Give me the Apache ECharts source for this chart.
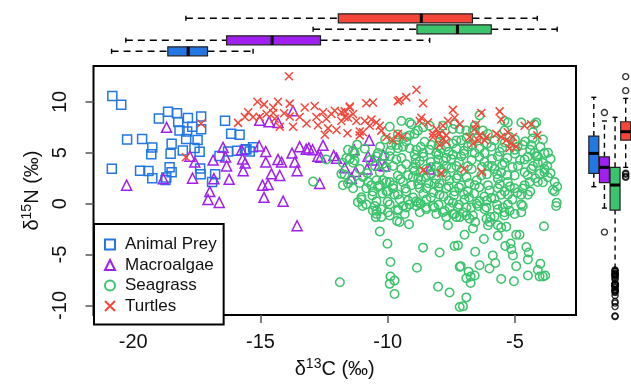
<!DOCTYPE html>
<html>
<head>
<meta charset="utf-8">
<script src="https://cdn.jsdelivr.net/npm/echarts@6.0.0/dist/echarts.min.js"></script>
<style>
html, body { margin: 0; padding: 0; background: #fff; }
#chart { width: 631px; height: 384px; }
</style>
</head>
<body>
<div id="chart"></div>
<script>
// isotope values: [d13C, d15N]
var animalPrey = [
	[-20.82,10.57],[-20.47,9.73],[-18.99,8.37],[-18.63,9.04],[-18.28,8.88],[-17.85,8.41],[-17.33,8.56],[-18.23,8.03],
	[-17.68,7.56],[-18.18,7.18],[-17.88,7.09],[-17.33,7.31],[-16.39,8.16],[-16.15,6.86],[-15.82,6.77],[-20.24,6.30],
	[-19.65,6.36],[-17.92,6.36],[-17.47,6.27],[-18.49,5.89],[-19.25,5.51],[-19.29,4.85],[-18.53,4.91],[-18.05,5.23],
	[-17.59,5.48],[-17.39,5.10],[-16.61,4.69],[-15.92,5.20],[-20.84,3.43],[-19.73,3.24],[-19.40,3.21],[-19.25,2.49],
	[-18.57,3.59],[-18.49,3.08],[-18.70,2.58],[-18.73,2.33],[-17.37,3.46],[-17.35,2.89],[-16.78,2.89],[-16.90,2.12],
	[-16.27,5.13],[-15.61,5.29],[-15.29,5.54],[-15.42,5.13],[-15.55,5.35]
];
var macroalgae = [
	[-20.26,1.82],[-18.69,7.50],[-18.82,2.46],[-17.77,4.66],[-17.58,4.09],[-17.67,2.51],[-16.86,4.28],[-16.99,1.19],
	[-17.06,0.41],[-16.62,0.12],[-16.83,2.46],[-16.47,5.54],[-16.37,4.59],[-16.33,3.71],[-16.23,2.39],[-15.74,5.29],
	[-15.70,4.40],[-15.68,3.24],[-15.03,8.19],[-15.05,5.67],[-14.79,5.13],[-14.79,4.09],[-14.86,0.62],[-14.92,1.82],
	[-14.70,1.89],[-14.57,2.93],[-14.66,8.06],[-14.31,4.35],[-14.17,4.09],[-14.24,2.77],[-14.11,0.25],[-14.31,7.97],
	[-13.72,9.13],[-13.76,4.97],[-13.65,4.09],[-13.56,3.24],[-13.56,-2.17],[-13.46,5.60],[-13.10,5.46],[-12.95,5.30],
	[-12.74,4.66],[-12.67,1.98],[-15.60,4.00],[-13.20,5.35],[-12.54,5.73],[-12.63,4.57],[-12.12,4.73],[-12.01,4.47],
	[-11.69,3.53],[-11.32,5.29],[-11.43,2.51],[-10.73,6.24],[-11.26,3.15],[-10.77,4.66],[-10.81,3.40],[-10.58,4.28],
	[-10.34,3.78],[-10.18,4.82],[-10.12,3.71],[-8.35,3.40]
];
var seagrass = [
	[-10.99,-0.23],[-10.31,-2.74],[-10.01,-3.94],[-9.89,-5.74],[-9.89,-7.16],[-9.73,-7.56],[-9.92,-7.88],[-9.73,-8.88],
	[-11.88,-7.72],[-8.61,-4.32],[-8.85,-6.30],[-7.96,-4.79],[-8.02,-8.17],[-7.57,-8.73],[-7.37,-4.16],[-7.24,-4.10],
	[-7.17,-6.21],[-9.16,-2.02],[-9.63,-1.70],[-9.53,-1.80],[-9.92,-1.17],[-7.63,-2.12],[-7.17,-10.15],
	[-3.38,-0.23],[-3.86,-2.21],[-6.98,-3.06],[-6.22,-3.47],[-5.67,-3.16],[-4.95,-3.06],[-4.82,-3.06],[-5.38,-4.16],
	[-5.17,-3.91],[-5.14,-4.48],[-5.08,-5.10],[-4.55,-4.25],[-4.46,-4.79],[-4.49,-5.48],[-6.56,-4.73],[-5.87,-5.10],
	[-5.77,-5.83],[-6.39,-6.05],[-6.00,-6.37],[-4.95,-6.14],[-4.00,-5.90],[-7.13,-6.14],[-6.82,-6.68],[-6.74,-7.16],
	[-6.91,-7.32],[-6.58,-7.06],[-6.74,-7.79],[-5.54,-7.41],[-5.04,-7.63],[-4.49,-7.06],[-4.10,-6.52],[-4.03,-7.16],
	[-3.90,-7.16],[-3.81,-7.06],[-6.91,-9.21],[-7.04,-10.09],[-6.65,-2.43],[-6.56,-1.80],[-6.06,-2.12],[-6.00,-1.80],
	[-5.67,-2.12],[-5.54,-2.33],[-6.12,-1.48],[-5.96,-1.32],[-5.80,-1.27],[-5.41,-1.17],[-5.21,-0.70],[-5.01,-1.01],
	[-4.75,-0.85],[-7.37,-1.01],[-7.17,-1.32],[-7.04,-0.85],[-6.78,-1.48],[-6.65,-1.17],[-7.24,-0.38],[-6.91,-0.38],
	[-6.45,-0.23],[-6.12,-0.38],[-5.67,-0.54],[-5.47,-0.38],[-4.69,-0.23],
	[-10.44,-1.01],[-10.25,-0.54],[-10.47,-1.32],[-10.25,-1.32],[-9.60,-0.54],[-9.27,-0.38],[-8.87,-0.23],[-8.48,-0.54],
	[-8.16,-0.38],[-8.09,-1.01],[-7.83,-0.85],[-7.70,-1.32],[-7.44,-1.01],[-7.30,-1.32],[-7.57,-0.38],
	[-6.91,-1.17],[-5.34,-2.27],
	[-9.92,7.56],[-9.46,8.13],[-9.07,7.81],[-8.81,7.18],[-9.14,6.71],[-9.66,6.24],[-9.85,5.77],[-9.60,5.44],
	[-9.40,5.60],[-9.27,6.08],[-8.55,6.08],[-8.29,5.77],[-7.96,6.08],[-7.70,5.60],[-7.44,5.92],[-7.83,7.66],
	[-7.44,7.33],[-7.89,6.71],
	[-11.30,4.97],[-11.62,4.50],[-11.76,4.03],[-11.36,4.03],[-11.82,2.93],[-11.56,1.98],[-11.36,1.51],[-11.76,1.82],
	[-11.10,3.40],[-10.97,2.61],[-10.77,2.14],[-10.84,1.51],[-10.64,1.82],[-10.44,2.30],[-10.31,1.82],[-10.05,2.14],
	[-10.58,1.19],[-11.03,0.41],[-10.84,-0.07],[-10.44,0.25],[-10.58,-0.70],[-9.99,1.19],[-9.79,1.82],[-9.60,2.77],
	[-9.46,3.40],[-9.40,2.14],[-9.73,0.88],[-9.53,0.41],[-9.27,1.19],[-9.07,1.82],[-9.01,2.61],[-8.68,2.30],
	[-8.48,1.51],[-8.16,1.98],[-7.96,0.88],[-8.87,0.25],[-8.48,0.41],[-8.22,-0.23],[-9.92,-0.07],[-9.66,4.35],
	[-9.92,4.66],[-9.46,4.50],[-8.94,4.82],[-8.74,4.19],[-8.02,4.35],[-7.70,4.50],[-7.44,4.82],[-7.30,3.71],
	[-7.83,3.08],[-7.57,2.30],[-7.37,1.19],[-7.44,0.09],[-7.76,-0.70],[-8.74,-0.85],[-9.33,-1.01],
	[-8.61,4.97],[-8.35,5.29],[-8.09,4.97],[-8.87,5.29],[-9.14,5.44],[-10.31,3.08],[-10.05,3.55],[-9.79,3.71],
	[-9.27,3.88],[-8.48,3.40],[-8.09,3.71],[-7.70,3.71],[-8.94,3.24],[-8.29,2.93],[-8.74,1.51],[-7.96,1.98],
	[-7.70,1.51],
	[-6.39,8.68],[-7.37,7.81],[-7.17,7.33],[-6.91,7.18],[-6.65,7.18],[-6.58,7.66],[-6.26,7.18],[-6.06,6.86],
	[-5.41,7.18],[-5.21,6.55],[-5.41,8.13],[-4.75,7.97],[-4.23,7.81],[-4.29,7.02],[-4.36,5.77],[-4.69,5.77],
	[-5.01,5.29],[-4.62,4.35],[-4.10,4.66],[-3.84,4.97],[-3.84,3.08],[-4.10,4.03],[-4.36,3.40],[-4.10,2.14],
	[-4.62,1.82],[-5.01,1.51],[-5.28,0.88],[-5.28,2.14],[-5.67,2.46],[-5.80,3.40],[-6.06,3.71],[-6.32,2.77],
	[-6.58,1.82],[-6.85,1.19],[-6.98,0.41],[-6.39,0.25],[-5.93,0.57],[-5.54,0.88],[-5.28,-0.07],[-4.75,0.88],
	[-4.49,0.88],[-3.44,2.14],[-3.34,1.66],[-3.44,1.19],[-3.36,0.10],[-6.71,-0.38],[-6.19,-0.54],[-5.41,-0.85],
	[-4.75,-0.07],
	[-7.11,6.24],[-6.85,5.60],[-6.58,4.97],[-7.11,4.66],[-6.85,3.71],[-7.24,2.77],[-6.19,4.97],[-5.93,5.60],
	[-5.67,4.66],[-5.41,4.03],[-4.88,3.71],[-5.01,2.77],[-4.62,3.08],[-5.54,3.08],[-7.11,1.82],[-6.06,1.82],
	[-5.67,1.51],[-4.23,4.97],[-3.73,3.71],
	[-12.41,4.35],[-12.93,2.17],[-11.56,5.29],[-10.44,4.66],[-10.38,4.97],[-10.12,4.66],[-10.18,2.30],[-9.92,2.14],
	[-10.38,1.66],[-10.05,1.19],[-9.79,1.51],[-10.51,-0.23],[-10.44,-0.70],[-9.99,-0.85],[-9.60,-0.70],[-9.40,-0.23],
	[-9.14,-0.07],[-8.81,0.09],[-8.48,-0.38],[-3.51,1.35],[-3.84,3.40],[-4.03,2.93],[-4.42,2.14],[-4.29,3.71],
	[-4.16,4.66],[-4.16,7.97],[-5.28,7.97],[-8.35,7.66],[-8.61,7.50],[-9.14,7.97],[-8.94,6.86],[-9.27,6.55],
	[-9.66,5.77],[-11.36,5.20],[-11.49,4.40],[-11.30,4.25],[-11.69,2.84],[-11.43,2.36],[-11.10,2.04],[-11.03,0.62],
	[-11.17,0.15],
	[-8.9,3.9],[-8.7,3.1],[-8.5,2.6],[-8.3,3.6],[-8.1,2.4],[-7.9,3.3],[-7.7,2.7],[-7.5,3.5],[-7.3,2.5],[-7.1,3.2],
	[-6.9,2.6],[-6.7,3.4],[-6.5,2.3],[-6.3,3.6],[-6.1,2.9],[-5.9,3.7],[-5.7,2.9],[-5.5,3.8],[-5.3,2.8],[-5.1,3.6],
	[-8.8,1.9],[-8.6,1.0],[-8.4,2.0],[-8.2,1.1],[-8.0,1.6],[-7.8,0.7],[-7.6,1.7],[-7.4,0.8],[-7.2,1.6],[-7.0,0.9],
	[-6.8,2.0],[-6.6,1.0],[-6.4,1.6],[-6.2,0.7],[-6.0,1.3],[-5.8,0.5],[-5.6,1.9],[-5.4,1.2],[-5.2,1.7],[-4.9,1.1],
	[-8.9,4.4],[-8.6,4.6],[-8.3,4.1],[-8.0,4.8],[-7.8,4.2],[-7.5,4.4],[-7.2,4.1],[-7.0,4.9],[-6.7,4.3],[-6.4,4.6],
	[-6.2,4.1],[-5.9,4.4],[-5.6,5.1],[-5.3,4.5],[-5.0,4.9],[-4.8,4.3],[-4.5,4.6],[-4.4,5.3],[-4.9,5.6],[-5.5,5.5],
	[-7.9,5.4],[-7.6,5.1],[-7.3,5.4],[-7.0,5.2],[-6.7,5.8],[-6.4,5.4],[-6.1,5.9],[-5.8,6.2],[-5.4,6.0],[-5.0,6.3],
	[-4.6,6.1],[-4.3,6.4],[-4.0,5.6],[-3.7,5.0],[-3.9,6.3],[-6.5,6.4],[-6.9,6.5],[-7.3,6.2],[-8.0,5.7],[-8.7,5.6],
	[-9.0,0.6],[-8.7,0.0],[-8.3,0.6],[-8.0,-0.1],[-7.6,0.3],[-7.2,-0.1],[-6.8,0.6],[-6.5,0.0],[-6.1,0.3],[-5.7,-0.1],
	[-5.1,0.4],[-4.7,1.5],[-4.4,1.2],[-4.2,2.5],[-4.5,2.8],[-3.9,2.1],[-3.7,2.6],[-3.6,3.0],[-3.9,4.0],[-3.6,4.4],
	[-9.2,2.8],[-9.0,3.5],[-8.8,2.5],[-9.5,2.4],[-9.3,1.5],[-9.6,0.9],[-9.2,0.3],[-10.0,0.2],[-10.2,1.0],[-10.6,0.8],
	[-10.8,3.0],[-10.5,3.7],[-10.2,3.9],[-10.7,4.3],[-9.9,5.2],[-10.3,5.6],[-10.9,5.4],[-11.2,5.8],[-9.6,6.8],[-10.1,6.3]
];
var turtles = [
	[-13.88,12.53],[-15.12,10.02],[-14.86,9.76],[-14.31,10.02],[-14.50,9.45],[-13.85,9.83],[-15.48,8.98],[-15.29,8.51],
	[-15.61,8.51],[-15.88,7.94],[-15.03,8.51],[-14.76,8.82],[-14.44,8.35],[-14.07,8.88],[-14.24,7.56],[-13.85,8.56],
	[-13.72,7.56],[-13.46,8.51],[-13.26,9.45],[-13.19,7.87],[-12.87,9.60],[-12.80,8.51],[-12.74,7.71],[-12.54,8.98],
	[-12.41,8.35],[-12.21,8.82],[-12.08,9.13],[-12.34,7.40],[-12.01,7.24],[-11.82,8.98],[-11.69,8.51],[-11.49,9.45],
	[-11.36,8.82],[-11.58,6.93],[-11.10,7.09],[-12.47,6.77],[-17.33,7.87],[-17.93,4.57],[-14.50,8.91],
	[-11.49,9.55],[-11.69,9.07],[-11.56,8.44],[-11.82,8.13],[-11.23,8.13],[-10.84,9.86],[-10.58,9.95],[-10.90,8.13],
	[-10.64,8.28],[-10.44,7.97],[-10.71,7.66],[-10.25,7.18],[-10.97,7.02],[-11.10,6.71],[-10.05,6.55],[-10.31,7.66],
	[-9.60,10.08],[-8.87,11.20],[-8.61,9.86],[-8.68,8.44],[-8.42,7.97],[-8.09,7.33],[-7.96,6.86],[-8.22,6.86],
	[-7.83,6.39],[-7.70,6.08],[-7.96,5.77],[-8.74,8.13],[-9.60,6.86],[-9.40,6.55],[-9.79,6.24],
	[-9.27,10.47],[-9.53,10.19],[-7.44,9.22],[-7.37,8.44],[-7.63,8.13],[-7.17,7.81],[-7.83,7.66],[-8.22,6.55],
	[-7.70,6.71],[-6.52,7.81],[-6.58,7.33],[-6.39,6.71],[-6.78,6.55],[-6.45,6.24],[-6.65,5.92],[-6.32,8.91],
	[-5.60,9.07],[-5.54,8.28],[-5.73,6.86],[-5.28,7.02],[-5.08,6.55],[-5.34,6.24],[-5.14,5.92],[-4.95,5.60],
	[-5.21,5.44],[-4.62,7.66],[-4.36,7.81],[-4.12,6.71],[-5.54,6.55],[-6.12,6.55],[-6.19,6.24],
	[-8.6,3.3],[-7.9,3.0],[-7.0,3.4],[-6.3,3.1]
];

var groups = ['Animal Prey', 'Macroalgae', 'Seagrass', 'Turtles'];
// marginal boxplots: [low whisker, Q1, median, Q3, high whisker]
var boxC13 = [
	[-20.85, -18.64, -17.84, -17.08, -15.29],
	[-20.29, -16.33, -14.54, -12.64, -8.35],
	[-12.93, -8.85, -7.26, -5.93, -3.34],
	[-17.93, -11.94, -8.68, -6.67, -4.12]
];
var boxN15 = [
	[2.12, 3.38, 5.27, 6.91, 10.57],
	[0.10, 2.50, 3.95, 4.95, 8.33],
	[-5.60, -0.09, 2.28, 3.95, 8.68],
	[3.95, 6.53, 7.32, 8.26, 10.47]
];
var xTicks = [-20, -15, -10, -5];
var yTicks = [-10, -5, 0, 5, 10];

var colors = ['#2277E3', '#A020F0', '#3CC46C', '#F4473A'];
var font = 'Liberation Sans, Arial, sans-serif';
var xMin = -21.56, xMax = -2.6, yMin = -10.95, yMax = 13.53;

var pointSets = [animalPrey, macroalgae, seagrass, turtles];

// points outside the N15 whiskers, drawn as circles on the right margin
var outliers = [];
pointSets.forEach(function (pts, i) {
	pts.forEach(function (p) {
		if (p[1] < boxN15[i][0] || p[1] > boxN15[i][4]) outliers.push([i, p[1]]);
	});
});

function boxItem(horizontal) {
	return function (params, api) {
		var c = api.value(0);
		var p = [];
		for (var i = 1; i <= 5; i++) {
			p.push(horizontal ? api.coord([api.value(i), c]) : api.coord([c, api.value(i)]));
		}
		var dash = { stroke: '#000', lineWidth: 1.4, lineDash: horizontal ? [7, 5] : [5, 4] };
		var solid = { stroke: '#000', lineWidth: 1.4 };
		var box = { fill: colors[c], stroke: '#222', lineWidth: 1.2 };
		var med = { stroke: '#000', lineWidth: 3 };
		var hw = horizontal ? 4.5 : 5, cw = 2.5;
		var kids;
		if (horizontal) {
			var y = p[0][1];
			kids = [
				{ type: 'line', shape: { x1: p[0][0], y1: y, x2: p[1][0], y2: y }, style: dash },
				{ type: 'line', shape: { x1: p[3][0], y1: y, x2: p[4][0], y2: y }, style: dash },
				{ type: 'line', shape: { x1: p[0][0], y1: y - cw, x2: p[0][0], y2: y + cw }, style: solid },
				{ type: 'line', shape: { x1: p[4][0], y1: y - cw, x2: p[4][0], y2: y + cw }, style: solid },
				{ type: 'rect', shape: { x: p[1][0], y: y - hw, width: p[3][0] - p[1][0], height: hw * 2 }, style: box },
				{ type: 'line', shape: { x1: p[2][0], y1: y - hw, x2: p[2][0], y2: y + hw }, style: med }
			];
		} else {
			var x = p[0][0];
			kids = [
				{ type: 'line', shape: { x1: x, y1: p[0][1], x2: x, y2: p[1][1] }, style: dash },
				{ type: 'line', shape: { x1: x, y1: p[3][1], x2: x, y2: p[4][1] }, style: dash },
				{ type: 'line', shape: { x1: x - cw, y1: p[0][1], x2: x + cw, y2: p[0][1] }, style: solid },
				{ type: 'line', shape: { x1: x - cw, y1: p[4][1], x2: x + cw, y2: p[4][1] }, style: solid },
				{ type: 'rect', shape: { x: x - hw, y: p[3][1], width: hw * 2, height: p[1][1] - p[3][1] }, style: box },
				{ type: 'line', shape: { x1: x - hw, y1: p[2][1], x2: x + hw, y2: p[2][1] }, style: med }
			];
		}
		return { type: 'group', children: kids };
	};
}

var richName = {
	n: { fontSize: 20, lineHeight: 24, fontFamily: font, color: '#111' },
	s: { fontSize: 14, lineHeight: 14, fontFamily: font, color: '#111', verticalAlign: 'top' }
};

var symbols = ['rect', 'triangle', 'circle', 'path://M0,0L10,10M10,0L0,10'];
var sizes = [9, 10, 8.5, 8];

var scatterSeries = pointSets.map(function (pts, i) {
	return {
		name: groups[i],
		type: 'scatter',
		xAxisIndex: 0,
		yAxisIndex: 0,
		symbol: symbols[i],
		symbolSize: sizes[i],
		data: pts,
		itemStyle: { color: 'rgba(0,0,0,0)', borderColor: colors[i], borderWidth: 1.5, opacity: 1 },
		emphasis: { disabled: true },
		animation: false
	};
});

var dom = document.getElementById('chart');
var myChart = echarts.init(dom, null, { renderer: 'canvas' });
var option = {
	backgroundColor: '#fff',
	animation: false,
	grid: [
		{ left: 93.5, right: 55, top: 66, bottom: 59, show: true, borderColor: '#000', borderWidth: 2 },
		{ left: 93.5, right: 55, top: 12.8, height: 44 },
		{ left: 588.5, width: 46.7, top: 66, bottom: 59 }
	],
	xAxis: [
		{
			gridIndex: 0, type: 'value', min: xMin, max: xMax,
			axisLine: { show: false, onZero: false },
			splitLine: { show: false },
			axisTick: { show: true, length: 8, customValues: xTicks, lineStyle: { color: '#555', width: 1.5 } },
			axisLabel: { customValues: xTicks, fontSize: 20, fontFamily: font, color: '#111', margin: 17 },
			name: '{n|δ}{s|13}{n|C (‰)}',
			nameLocation: 'middle',
			nameGap: 37,
			nameTextStyle: { rich: richName }
		},
		{ gridIndex: 1, type: 'value', min: xMin, max: xMax, show: false },
		{ gridIndex: 2, type: 'category', data: groups, show: false }
	],
	yAxis: [
		{
			gridIndex: 0, type: 'value', min: yMin, max: yMax,
			axisLine: { show: false, onZero: false },
			splitLine: { show: false },
			axisTick: { show: true, length: 8, customValues: yTicks, lineStyle: { color: '#555', width: 1.5 } },
			axisLabel: { customValues: yTicks, fontSize: 20, fontFamily: font, color: '#111', margin: 23, rotate: 90 },
			name: '{n|δ}{s|15}{n|N (‰)}',
			nameLocation: 'middle',
			nameGap: 48,
			nameRotate: 90,
			nameTextStyle: { rich: richName }
		},
		{ gridIndex: 1, type: 'category', data: groups, show: false },
		{ gridIndex: 2, type: 'value', min: yMin, max: yMax, show: false }
	],
	legend: {
		orient: 'vertical',
		left: 94,
		top: 224,
		data: groups,
		padding: [12, 7, 10, 10],
		itemGap: 3.5,
		itemWidth: 10,
		itemHeight: 10,
		backgroundColor: '#fff',
		borderColor: '#000',
		borderWidth: 2,
		borderRadius: 0,
		selectedMode: false,
		textStyle: { fontSize: 17, lineHeight: 17, fontFamily: font, color: '#111', padding: [0, 0, 0, 5] }
	},
	series: scatterSeries.concat([
		{
			type: 'custom',
			xAxisIndex: 1,
			yAxisIndex: 1,
			renderItem: boxItem(true),
			encode: { x: [1, 2, 3, 4, 5], y: 0 },
			data: boxC13.map(function (b, i) { return [i].concat(b); }),
			silent: true
		},
		{
			type: 'custom',
			xAxisIndex: 2,
			yAxisIndex: 2,
			renderItem: boxItem(false),
			encode: { x: 0, y: [1, 2, 3, 4, 5] },
			data: boxN15.map(function (b, i) { return [i].concat(b); }),
			silent: true
		},
		{
			type: 'scatter',
			xAxisIndex: 2,
			yAxisIndex: 2,
			symbol: 'circle',
			symbolSize: 6,
			data: outliers,
			itemStyle: { color: 'rgba(0,0,0,0)', borderColor: '#000', borderWidth: 1.4 },
			silent: true
		}
	])
};

if (option && typeof option === "object") {
	myChart.setOption(option, true);
}
</script>
</body>
</html>
